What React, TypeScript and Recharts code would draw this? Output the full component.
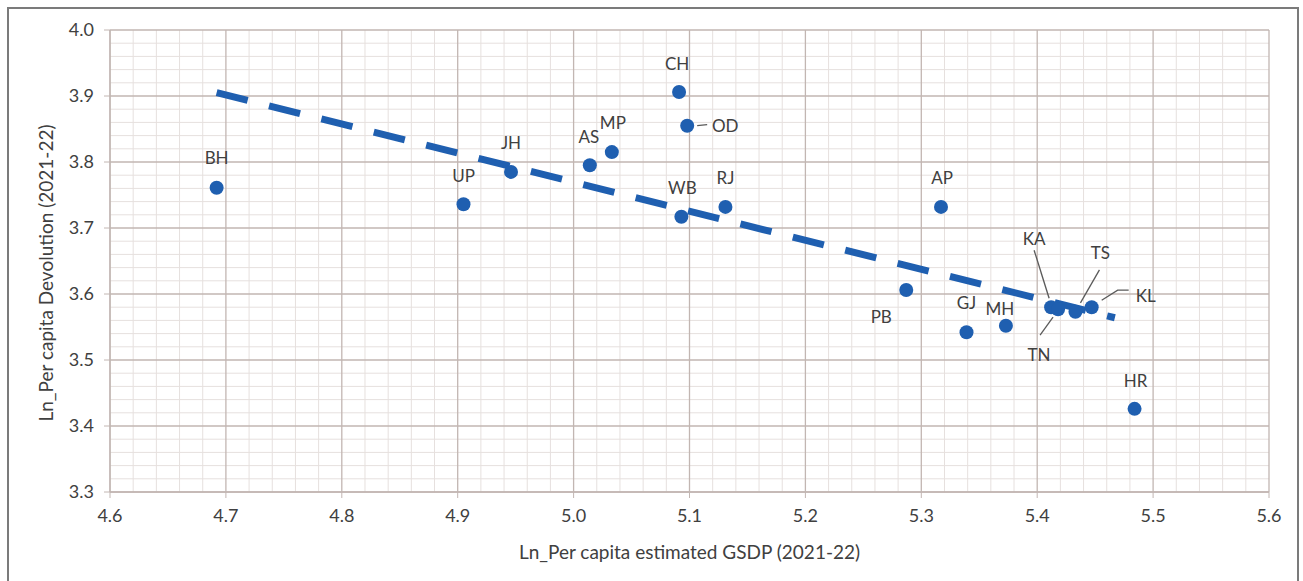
import { CartesianGrid, Label, Scatter, ScatterChart, XAxis, YAxis } from "recharts";

const states = ["BH", "UP", "JH", "AS", "MP", "CH", "OD", "WB", "RJ", "AP", "PB", "GJ", "MH", "KA", "TN", "TS", "KL", "HR"];
const gsdp = [4.692, 4.905, 4.946, 5.014, 5.033, 5.091, 5.098, 5.093, 5.131, 5.317, 5.287, 5.339, 5.373, 5.412, 5.418, 5.433, 5.447, 5.484];
const devolution = [3.761, 3.736, 3.785, 3.795, 3.815, 3.906, 3.855, 3.717, 3.732, 3.732, 3.606, 3.542, 3.552, 3.58, 3.577, 3.573, 3.58, 3.426];

// linear trend end points
const trendX = [4.692, 5.467];
const trendY = [3.905, 3.564];

const xTicks = [4.6, 4.7, 4.8, 4.9, 5.0, 5.1, 5.2, 5.3, 5.4, 5.5, 5.6];
const yTicks = [3.3, 3.4, 3.5, 3.6, 3.7, 3.8, 3.9, 4.0];
const steps = [0.02, 0.04, 0.06, 0.08];
const xMinor = xTicks.slice(0, -1).flatMap((t) => steps.map((d) => +(t + d).toFixed(2)));
const yMinor = yTicks.slice(0, -1).flatMap((t) => steps.map((d) => +(t + d).toFixed(2)));

const font = "Lato, 'Open Sans', sans-serif";
const textColor = "#404040";
const dotColor = "#1f5fb0";
const majorGrid = "#c2b6b2";
const minorGrid = "#e6e0de";

// label placement relative to each dot (px), plus optional leader line
const labelPos: Record<string, { dx: number; dy: number; leader?: number[][] }> = {
  BH: { dx: 0, dy: -30 },
  UP: { dx: 0, dy: -29 },
  JH: { dx: 0, dy: -29 },
  AS: { dx: -1, dy: -29 },
  MP: { dx: 1, dy: -30 },
  CH: { dx: -2, dy: -29 },
  OD: { dx: 38, dy: 0, leader: [[10, 0], [20, -1]] },
  WB: { dx: 1, dy: -29 },
  RJ: { dx: 0, dy: -29 },
  AP: { dx: 1, dy: -29 },
  PB: { dx: -25, dy: 26 },
  GJ: { dx: 0, dy: -30 },
  MH: { dx: -6, dy: -17 },
  KA: { dx: -17, dy: -69, leader: [[-17, -57], [-2, -9]] },
  TN: { dx: -19, dy: 45, leader: [[-18, 26], [-5, 8]] },
  TS: { dx: 25, dy: -59, leader: [[24, -42], [5, -9]] },
  KL: { dx: 54, dy: -12, leader: [[37, -17], [26, -17], [10, -7]] },
  HR: { dx: 1, dy: -28 },
};

const points = states.map((code, i) => ({ code, x: gsdp[i], y: devolution[i] }));
const trend = trendX.map((x, i) => ({ x, y: trendY[i] }));

function StatePoint(props: any) {
  const { cx, cy, payload } = props;
  const pos = labelPos[payload.code];
  return (
    <g>
      {pos.leader && (
        <polyline
          points={pos.leader.map(([a, b]) => `${cx + a},${cy + b}`).join(" ")}
          fill="none"
          stroke="#5a5a5a"
          strokeWidth={1.3}
        />
      )}
      <circle cx={cx} cy={cy} r={7} fill={dotColor} />
      <text
        x={cx + pos.dx}
        y={cy + pos.dy}
        textAnchor="middle"
        dominantBaseline="central"
        fill={textColor}
        fontSize={17}
        fontFamily={font}
      >
        {payload.code}
      </text>
    </g>
  );
}

export default function App() {
  return (
    <div style={{ position: "absolute", left: 0, top: 0, width: 1303, height: 581, background: "#fff", overflow: "hidden" }}>
      <div
        style={{
          position: "absolute",
          left: 7,
          top: 7,
          width: 1288,
          height: 600,
          border: "2px solid #7b7b7b",
        }}
      />
      <div style={{ position: "absolute", left: 0, top: 0 }}>
        <ScatterChart width={1303} height={581} margin={{ top: 30, right: 34, left: 0, bottom: 0 }}>
          <CartesianGrid stroke={minorGrid} strokeWidth={1} verticalValues={xMinor} horizontalValues={yMinor} />
          <CartesianGrid stroke={majorGrid} strokeWidth={1.3} />
          <XAxis
            type="number"
            dataKey="x"
            domain={[4.6, 5.6]}
            ticks={xTicks}
            interval={0}
            allowDataOverflow
            height={89}
            tickSize={6}
            tickMargin={11}
            axisLine={{ stroke: majorGrid, strokeWidth: 1.3 }}
            tickLine={{ stroke: majorGrid }}
            tick={{ fill: textColor, fontSize: 18, fontFamily: font }}
            tickFormatter={(v: number) => v.toFixed(1)}
          >
            <Label
              content={({ viewBox }: any) => (
                <text
                  x={viewBox.x + viewBox.width / 2}
                  y={551}
                  textAnchor="middle"
                  dominantBaseline="central"
                  fill={textColor}
                  fontSize={19}
                  fontFamily={font}
                >
                  Ln_Per capita estimated GSDP (2021-22)
                </text>
              )}
            />
          </XAxis>
          <YAxis
            type="number"
            dataKey="y"
            domain={[3.3, 4.0]}
            ticks={yTicks}
            interval={0}
            allowDataOverflow
            width={110}
            tickSize={6}
            tickMargin={10}
            axisLine={{ stroke: majorGrid, strokeWidth: 1.3 }}
            tickLine={{ stroke: majorGrid }}
            tick={{ fill: textColor, fontSize: 18, fontFamily: font }}
            tickFormatter={(v: number) => v.toFixed(1)}
          >
            <Label
              content={({ viewBox }: any) => {
                const cy = viewBox.y + viewBox.height / 2 + 12;
                return (
                  <text
                    x={45}
                    y={cy}
                    transform={`rotate(-90, 45, ${cy})`}
                    textAnchor="middle"
                    dominantBaseline="central"
                    fill={textColor}
                    fontSize={19}
                    fontFamily={font}
                  >
                    Ln_Per capita Devolution (2021-22)
                  </text>
                );
              }}
            />
          </YAxis>
          <Scatter
            data={trend}
            line={{ stroke: dotColor, strokeWidth: 7, strokeDasharray: "32 22" }}
            lineType="joint"
            shape={() => <g />}
            isAnimationActive={false}
          />
          <Scatter data={points} shape={StatePoint} isAnimationActive={false} />
        </ScatterChart>
      </div>
    </div>
  );
}
